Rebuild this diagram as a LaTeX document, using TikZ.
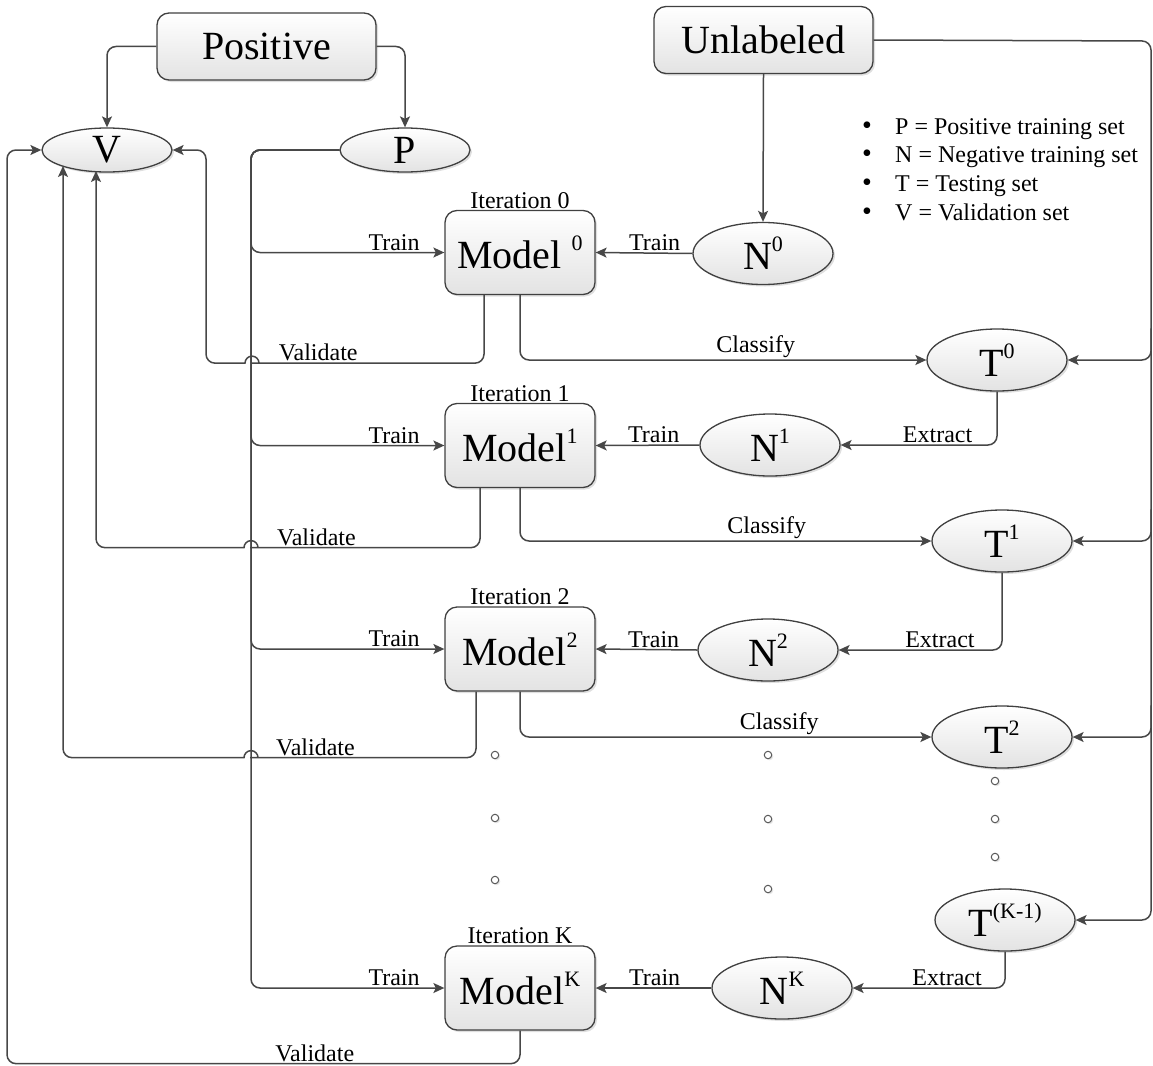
\documentclass[tikz,border=0pt]{standalone}
\usepackage{fontspec}
\setmainfont{Liberation Serif}
\usetikzlibrary{arrows.meta,shapes.geometric,shadows}
\newcommand{\nodefont}{\fontsize{40}{44}\selectfont}
\newcommand{\labfont}{\fontsize{24}{28}\selectfont}
\newcommand{\upidx}[1]{\raisebox{18pt}{\fontsize{22}{24}\selectfont #1}}
\tikzset{%
  >={Stealth[width=10pt,length=11pt,inset=2.5pt]},
  % Specifications for style of nodes:
            base/.style = {rectangle, rounded corners=12pt, draw=black!75,
                           line width=1.3pt, top color=white, bottom color=gray!22,
                           drop shadow={shadow xshift=2pt, shadow yshift=-2pt,
                                        opacity=.25, fill=black!50},
                           text centered, inner sep=0pt, font=\nodefont},
        setbox/.style = {base, minimum width=219pt, minimum height=67pt},
      modelbox/.style = {base, minimum width=150pt, minimum height=84pt},
       setoval/.style = {base, ellipse, minimum width=140pt, minimum height=62pt},
      smalloval/.style = {base, ellipse, minimum width=130pt, minimum height=44pt},
     iterlabel/.style = {font=\labfont, inner sep=1pt},
     linklabel/.style = {font=\labfont, inner sep=1.5pt},
    legendtext/.style = {font=\labfont, inner sep=0pt, anchor=base west},
        dotmark/.style = {circle, draw=black!65, line width=1pt, fill=white,
                           minimum size=7.5pt, inner sep=0pt,
                           drop shadow={shadow xshift=1.5pt, shadow yshift=-1.5pt,
                                        opacity=.2, fill=black!50}},
          link/.style = {draw=black!72, line width=1.5pt, rounded corners=9pt},
}
\begin{document}
\begin{tikzpicture}[x=1pt, y=-1pt]
  \useasboundingbox (0,0) rectangle (1153,1065);
  % Specification of nodes (position, etc.)
  \node (pos)   [setbox] at (266.5,46.5) {Positive};
  \node (unl)   [setbox] at (763.5,40) {Unlabeled};
  \node (v)     [smalloval] at (107,150) {V};
  \node (p)     [smalloval] at (405,150) {P};

  \node (m0)    [modelbox, label={[iterlabel]above:Iteration 0}] at (520,252.5) {Model \upidx{0}};
  \node (m1)    [modelbox, label={[iterlabel]above:Iteration 1}] at (520,445.5) {Model\upidx{1}};
  \node (m2)    [modelbox, label={[iterlabel]above:Iteration 2}] at (520,649) {Model\upidx{2}};
  \node (mk)    [modelbox, label={[iterlabel]above:Iteration K}] at (520,988) {Model\upidx{K}};

  \node (n0)    [setoval] at (763,253.5) {N\upidx{0}};
  \node (n1)    [setoval] at (770,445) {N\upidx{1}};
  \node (n2)    [setoval] at (768,650) {N\upidx{2}};
  \node (nk)    [setoval] at (782,988) {N\upidx{K}};

  \node (t0)    [setoval] at (997,360) {T\upidx{0}};
  \node (t1)    [setoval] at (1002,541) {T\upidx{1}};
  \node (t2)    [setoval] at (1002,737) {T\upidx{2}};
  \node (tk)    [setoval] at (1005,920) {T\upidx{(K-1)}};

  \foreach \txt [count=\i] in {P = Positive training set, N = Negative training set,
                               T = Testing set, V = Validation set}
    \node (leg\i) [legendtext] at (862,{134+28.7*(\i-1)})
      {\makebox[33pt][l]{\fontsize{28}{24}\selectfont\textbullet}\txt};

  \foreach \x/\y [count=\i] in {495/755, 495/818, 495/880, 768/755, 768/819, 768/889,
                                995/781, 995/819, 995/857}
    \node (dot\i) [dotmark] at (\x,\y) {};

  \coordinate (trunk) at (251,150);
  \coordinate (rail)  at (1151,41);
  \coordinate (vr)    at (206,150);
  \coordinate (lft)   at (7,150);
  \coordinate (vin1)  at (96,171);
  \coordinate (vin2)  at (63,166);

  \draw[link,->] (pos.west) -| (v.north);
  \draw[link,->] (pos.east) -| (p.north);
  \draw[link,->] (unl.south) -- (n0.north);

  % training from P
  \foreach \m in {m0,m1,m2,mk}
    \draw[link,->] (p.west) -- (trunk) |- (\m.west) node[linklabel,pos=0.87,above] {Train};
  % training from N
  \foreach \n/\m/\q in {n0/m0/0.39, n1/m1/0.44, n2/m2/0.43, nk/mk/0.49}
    \draw[link,->] (\n.west) -- (\m.east) node[linklabel,pos=\q,above] {Train};
  % classify
  \foreach \m/\t/\q in {m0/t0/0.79, m1/t1/0.80, m2/t2/0.815}
    \draw[link,->] (\m.south) |- (\t.west) node[linklabel,pos=\q,above] {Classify};
  % extract
  \foreach \t/\n in {t0/n1, t1/n2, tk/nk}
    \draw[link,->] (\t.south) |- (\n.east) node[linklabel,pos=0.69,above] {Extract};
  % unlabeled rail
  \draw[link,->] (unl.east) -- (rail) |- (tk.east);
  \foreach \t in {t0,t1,t2}
    \draw[link,->] (rail |- \t.north) |- (\t.east);

  % validate (hop over the P trunk)
  \draw[link,->] ([xshift=-36pt]m0.south) -- ++(0,68) -- ++(-224,0) node[linklabel,pos=0.74,above] {Validate}
                 [sharp corners] -- ++(-1,0) arc[start angle=0,end angle=180,radius=7pt] -- ++(-1,0)
                 [rounded corners=9pt] -| (vr) -- (v.east);
  \draw[link,->] ([xshift=-40pt]m1.south) -- ++(0,59.5) -- ++(-221,0) node[linklabel,pos=0.74,above] {Validate}
                 [sharp corners] -- ++(-1,0) arc[start angle=0,end angle=180,radius=7pt] -- ++(-1,0)
                 [rounded corners=9pt] -| (vin1);
  \draw[link,->] ([xshift=-44pt]m2.south) -- ++(0,66) -- ++(-217,0) node[linklabel,pos=0.74,above] {Validate}
                 [sharp corners] -- ++(-1,0) arc[start angle=0,end angle=180,radius=7pt] -- ++(-1,0)
                 [rounded corners=9pt] -| (vin2);
  \draw[link,->] (mk.south) -- ++(0,33) -| (lft) node[linklabel,pos=0.2,above] {Validate} -- (v.west);
\end{tikzpicture}
\end{document}
